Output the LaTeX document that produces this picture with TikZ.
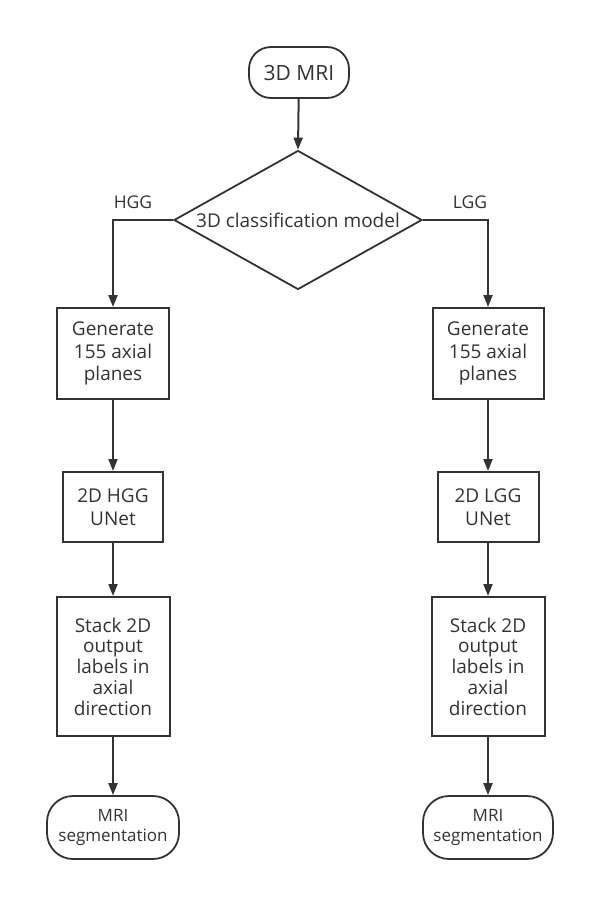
\documentclass[tikz,border=0pt]{standalone}
\usepackage{fontspec}
\setmainfont{Open Sans}
\usetikzlibrary{shapes.geometric,arrows.meta}
\definecolor{ink}{HTML}{333333}
\begin{document}
\begin{tikzpicture}[x=1pt,y=-1pt,
  every node/.style={text=ink,font=\fontsize{19}{22.5}\selectfont,align=center,inner sep=0pt},
  procbox/.style={draw=ink,line width=2pt,minimum width=#1,rectangle},
  term/.style={draw=ink,line width=1.8pt,rounded corners=22pt,rectangle},
  conn/.style={draw=ink,line width=2pt,-{Triangle[length=12pt,width=9pt]}}]
\useasboundingbox[fill=white] (0,0) rectangle (615,921);
% top
\node[term,minimum width=100pt,minimum height=51pt,font=\fontsize{21}{24}\selectfont] (mri) at (299,72.5) {3D MRI};
\node[diamond,draw=ink,line width=1.8pt,minimum width=248pt,minimum height=139pt,aspect=1.78] (cls) at (298,220) {};
\node at (298,220) {3D classification model};
\node[font=\fontsize{17.5}{20}\selectfont] at (133,202) {HGG};
\node[font=\fontsize{17.5}{20}\selectfont] at (470,202) {LGG};
% left column
\node[procbox=112pt,minimum height=91pt] (gl) at (113,353.5) {Generate\\155 axial\\planes};
\node[procbox=100pt,minimum height=70pt] (ul) at (113,507) {2D HGG\\UNet};
\node[procbox=113pt,minimum height=139pt,font=\fontsize{19}{20.75}\selectfont] (sl) at (113,666.5) {Stack 2D\\output\\labels in\\axial\\direction};
\node[term,minimum width=132pt,minimum height=63pt,rounded corners=26pt,font=\fontsize{17}{19.5}\selectfont] (ml) at (113,827.5) {MRI\\segmentation};
% right column
\node[procbox=111pt,minimum height=91pt] (gr) at (488,353.5) {Generate\\155 axial\\planes};
\node[procbox=101pt,minimum height=70pt] (ur) at (488,507) {2D LGG\\UNet};
\node[procbox=113pt,minimum height=139pt,font=\fontsize{19}{20.75}\selectfont] (sr) at (488,666.5) {Stack 2D\\output\\labels in\\axial\\direction};
\node[term,minimum width=130pt,minimum height=63pt,rounded corners=26pt,font=\fontsize{17}{19.5}\selectfont] (mr) at (488,827.5) {MRI\\segmentation};
% connectors
\draw[conn] (mri) -- (cls.north);
\draw[conn] (cls.west) -| (gl.north);
\draw[conn] (cls.east) -| (gr.north);
\draw[conn] (gl) -- (ul);
\draw[conn] (ul) -- (sl);
\draw[conn] (sl) -- (ml);
\draw[conn] (gr) -- (ur);
\draw[conn] (ur) -- (sr);
\draw[conn] (sr) -- (mr);
\end{tikzpicture}
\end{document}
